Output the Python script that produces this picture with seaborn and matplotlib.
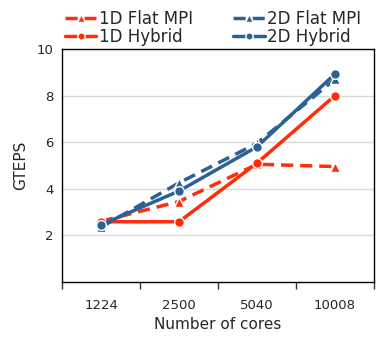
"""GTEPS vs number of cores for flat MPI and hybrid BFS variants."""

import matplotlib
matplotlib.use("Agg")

import matplotlib.pyplot as plt
import pandas as pd
import seaborn as sns
from matplotlib.ticker import FixedLocator, NullFormatter


cores = ["1224", "2500", "5040", "10008"]
flat_1d = [2.6, 3.45, 5.05, 4.95]
hybrid_1d = [2.58, 2.58, 5.1, 8.0]
flat_2d = [2.35, 4.25, 5.95, 8.7]
hybrid_2d = [2.45, 3.9, 5.8, 8.93]
series_names = ["1D Flat MPI", "1D Hybrid", "2D Flat MPI", "2D Hybrid"]
y_ticks = [2, 4, 6, 8, 10]

RED = "#ff2d0a"
BLUE = "#2c6196"


def build_dataframe():
    rows = []
    for name, values in zip(series_names, [flat_1d, hybrid_1d, flat_2d, hybrid_2d]):
        for c, v in zip(cores, values):
            rows.append({"cores": c, "GTEPS": v, "series": name})
    return pd.DataFrame(rows)


def main():
    sns.set_theme(style="white")
    plt.rcParams["font.family"] = ["DejaVu Sans"]
    plt.rcParams["text.color"] = "#262626"
    df = build_dataframe()

    fig = plt.figure(figsize=(3.9, 3.4), dpi=100)
    ax = fig.add_axes([0.159, 0.171, 0.8, 0.685])

    ax.grid(axis="y", color="#d9d9d9", linewidth=1)
    ax.set_axisbelow(True)

    sns.lineplot(
        data=df, x="cores", y="GTEPS", hue="series", style="series",
        hue_order=series_names, style_order=series_names,
        palette={"1D Flat MPI": RED, "1D Hybrid": RED,
                 "2D Flat MPI": BLUE, "2D Hybrid": BLUE},
        dashes={"1D Flat MPI": (3.5, 2), "1D Hybrid": "",
                "2D Flat MPI": (3.5, 2), "2D Hybrid": ""},
        markers={"1D Flat MPI": "^", "1D Hybrid": "o",
                 "2D Flat MPI": "^", "2D Hybrid": "o"},
        linewidth=2.5, markersize=7, markeredgecolor="white",
        markeredgewidth=1, ax=ax,
    )

    ax.set_xlim(-0.5, len(cores) - 0.5)
    ax.set_ylim(0, 10)
    ax.set_yticks(y_ticks)
    ax.tick_params(axis="y", length=0, labelsize=9.5, pad=6)

    # category boundaries carry the tick marks, centres carry the labels
    ax.xaxis.set_major_locator(FixedLocator([i - 0.5 for i in range(len(cores) + 1)]))
    ax.xaxis.set_major_formatter(NullFormatter())
    ax.xaxis.set_minor_locator(FixedLocator(range(len(cores))))
    ax.set_xticklabels(cores, minor=True)
    ax.tick_params(axis="x", which="major", direction="out", length=5,
                   width=1, color="#333333", bottom=True)
    ax.tick_params(axis="x", which="minor", length=0, labelsize=9.5, pad=12)

    ax.set_xlabel("Number of cores", fontsize=11, labelpad=4)
    ax.set_ylabel("GTEPS", fontsize=11, labelpad=6)

    for spine in ax.spines.values():
        spine.set_color("black")
        spine.set_linewidth(1)

    handles, labels = ax.get_legend_handles_labels()
    ax.legend(handles, labels, ncol=2, loc="lower left",
              bbox_to_anchor=(-0.018, 0.979), frameon=False, fontsize=12,
              handlelength=1.9, handletextpad=0.15, columnspacing=2.4,
              labelspacing=0.0, borderaxespad=0.1, markerscale=0.75)

    fig.savefig("out.png", dpi=100)
    plt.close(fig)


if __name__ == "__main__":
    main()
